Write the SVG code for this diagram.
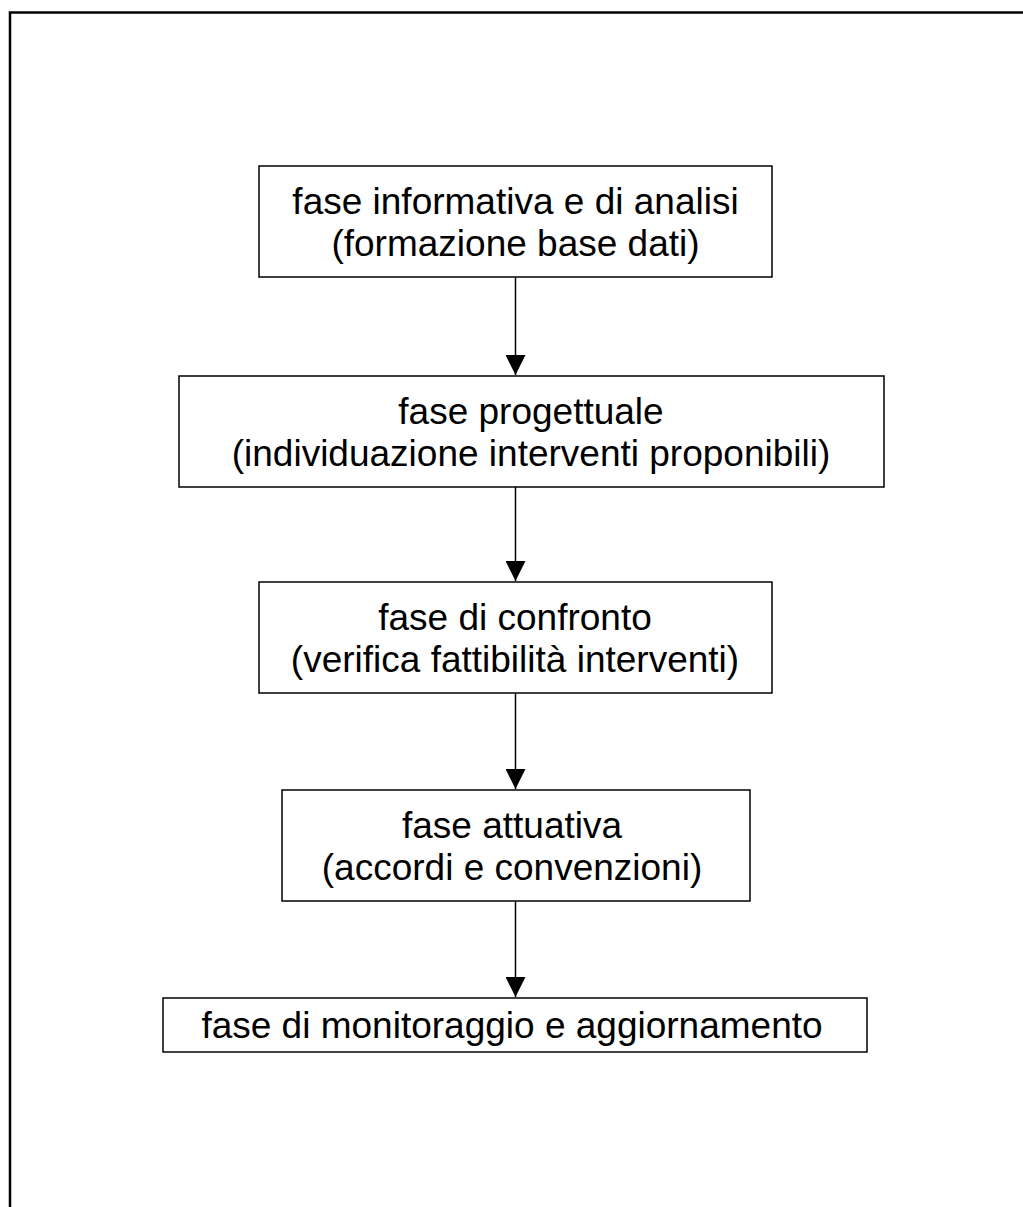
<svg xmlns="http://www.w3.org/2000/svg" width="1023" height="1207" viewBox="0 0 1023 1207">
<defs>
<style>
.box{fill:#fff;stroke:#000;stroke-width:1.5}
.t{font-family:"Liberation Sans",Arial,sans-serif;font-size:37px;fill:#000;text-anchor:middle}
.c{stroke:#000;stroke-width:1.5;fill:none}
</style>
<marker id="ah" markerUnits="userSpaceOnUse" markerWidth="20" markerHeight="20" refX="20" refY="10" orient="auto">
<path d="M0,0 L20,10 L0,20 Z" fill="#000"/>
</marker>
</defs>
<rect width="1023" height="1207" fill="#fff"/>
<path d="M10,1207 V12.5 H1023" fill="none" stroke="#000" stroke-width="2.5"/>
<g id="connectors">
<line class="c" x1="515.5" y1="277" x2="515.5" y2="375" marker-end="url(#ah)"/>
<line class="c" x1="515.5" y1="487" x2="515.5" y2="581" marker-end="url(#ah)"/>
<line class="c" x1="515.5" y1="693" x2="515.5" y2="789" marker-end="url(#ah)"/>
<line class="c" x1="515.5" y1="901" x2="515.5" y2="997" marker-end="url(#ah)"/>
</g>
<g id="n1">
<rect class="box" x="259" y="166" width="513" height="111"/>
<text class="t" x="515.5" y="213.5">fase informativa e di analisi</text>
<text class="t" x="515.5" y="255.5">(formazione base dati)</text>
</g>
<g id="n2">
<rect class="box" x="179" y="376" width="705" height="111"/>
<text class="t" x="531" y="423.5">fase progettuale</text>
<text class="t" x="531" y="465.5">(individuazione interventi proponibili)</text>
</g>
<g id="n3">
<rect class="box" x="259" y="582" width="513" height="111"/>
<text class="t" x="515" y="629.5">fase di confronto</text>
<text class="t" x="515" y="671.5">(verifica fattibilità interventi)</text>
</g>
<g id="n4">
<rect class="box" x="282" y="790" width="468" height="111"/>
<text class="t" x="512" y="837.5">fase attuativa</text>
<text class="t" x="512" y="879.5">(accordi e convenzioni)</text>
</g>
<g id="n5">
<rect class="box" x="163" y="998" width="704" height="54"/>
<text class="t" x="512" y="1038">fase di monitoraggio e aggiornamento</text>
</g>
</svg>
